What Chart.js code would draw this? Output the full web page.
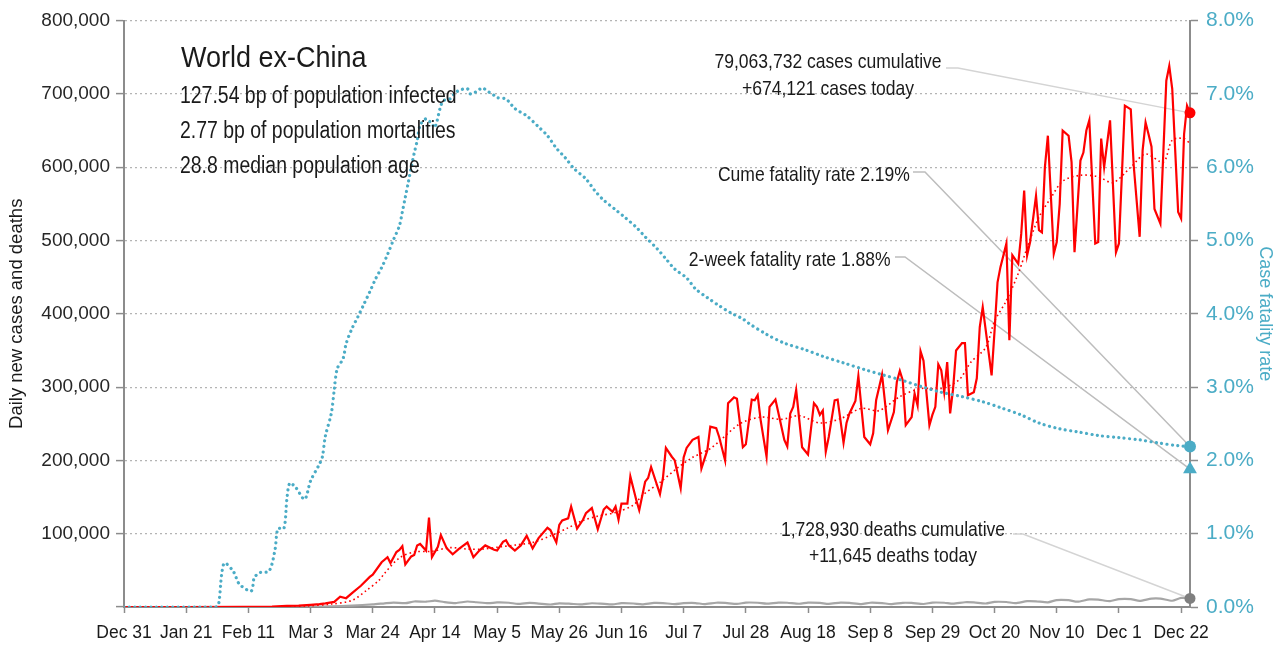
<!DOCTYPE html>
<html>
<head>
<meta charset="utf-8">
<script src="https://cdn.jsdelivr.net/npm/chart.js@4.4.1/dist/chart.umd.min.js"></script>
<style>
  body { margin: 0; background: #fff; }
  #wrap { position: relative; width: 1284px; height: 649px; }
  .note {
    position: absolute; white-space: nowrap; line-height: 1; color: #1a1a1a;
    font-family: 'Liberation Sans', Arial, sans-serif;
  }
  .left { transform-origin: left center; }
  .right { transform-origin: right center; }
  .mid { text-align: center; }
</style>
</head>
<body>
<div id="wrap">
  <canvas id="covidChart" width="1284" height="649"></canvas>
  <div class="note left" style="left:181px; top:42px; font-size:30px; transform:scaleX(0.9);">World ex-China</div>
  <div class="note left" style="left:180px; top:84px; font-size:23px; transform:scaleX(0.845);">127.54 bp of population infected</div>
  <div class="note left" style="left:180px; top:119px; font-size:23px; transform:scaleX(0.845);">2.77 bp of population mortalities</div>
  <div class="note left" style="left:180px; top:154px; font-size:23px; transform:scaleX(0.845);">28.8 median population age</div>
  <div class="note mid" style="left:828px; top:47px; font-size:21px; line-height:27px; transform:translateX(-50%) scaleX(0.835);">79,063,732 cases cumulative<br>+674,121 cases today</div>
  <div class="note right" style="right:374px; top:163px; font-size:21px; transform:scaleX(0.835);">Cume fatality rate 2.19%</div>
  <div class="note right" style="right:393px; top:248px; font-size:21px; transform:scaleX(0.835);">2-week fatality rate 1.88%</div>
  <div class="note mid" style="left:893px; top:516px; font-size:21px; line-height:26px; transform:translateX(-50%) scaleX(0.835);">1,728,930 deaths cumulative<br>+11,645 deaths today</div>
</div>
<script>
// x axis: days since Dec 31 2019
const tickDays = [0, 21, 42, 63, 84, 105, 126, 147, 168, 189, 210, 231, 252, 273, 294, 315, 336, 357];
const tickLabels = ['Dec 31', 'Jan 21', 'Feb 11', 'Mar 3', 'Mar 24', 'Apr 14', 'May 5', 'May 26', 'Jun 16',
  'Jul 7', 'Jul 28', 'Aug 18', 'Sep 8', 'Sep 29', 'Oct 20', 'Nov 10', 'Dec 1', 'Dec 22'];
const lastDay = 360;

// daily new cases
const caseDays = [
  0, 20, 40, 50, 55, 59, 63, 66, 68, 71,
  73, 75, 77, 80, 83, 84, 87, 89, 90, 92,
  93, 94, 95, 97, 98, 99, 100, 102, 103, 104,
  106, 107, 109, 111, 113, 114, 116, 118, 120, 122,
  125, 126, 128, 129, 130, 132, 134, 136, 138, 140,
  143, 144, 146, 147, 148, 150, 151, 153, 155, 156,
  158, 160, 162, 163, 165, 166, 167, 168, 170, 171,
  173, 174, 176, 177, 178, 181, 182, 183, 185, 186,
  188, 189, 190, 192, 194, 195, 197, 198, 200, 201,
  203, 204, 206, 207, 209, 210, 212, 213, 214, 215,
  217, 218, 220, 223, 224, 225, 226, 227, 229, 231,
  233, 234, 235, 236, 237, 238, 240, 241, 243, 244,
  245, 247, 248, 250, 252, 253, 254, 256, 258, 260,
  261, 262, 263, 264, 266, 267, 268, 269, 270, 272,
  273, 274, 275, 276, 277, 278, 279, 280, 281, 283,
  284, 285, 287, 288, 289, 290, 293, 294, 295, 296,
  298, 299, 300, 302, 303, 304, 305, 306, 308, 309,
  310, 311, 312, 314, 315, 316, 317, 319, 320, 321,
  323, 324, 325, 326, 328, 329, 330, 331, 333, 335,
  336, 338, 340, 341, 343, 344, 345, 346, 347, 348,
  350, 352, 353, 354, 356, 357, 358, 359, 360
];
const caseValues = [
  0, 0, 200, 600, 1500, 2000, 3000, 4000, 5000, 7000,
  14000, 12000, 19000, 29000, 41000, 44000, 61000, 68000, 60000, 75000,
  78000, 83000, 58000, 69000, 71000, 84000, 86000, 77000, 122000, 68000,
  82000, 98000, 80000, 72000, 79000, 82000, 88000, 68000, 77000, 84000,
  78000, 77000, 89000, 91000, 84000, 77000, 84000, 97000, 80000, 94000,
  108000, 105000, 88000, 112000, 118000, 121000, 137000, 107000, 119000, 128000,
  135000, 106000, 133000, 137000, 130000, 137000, 119000, 141000, 141000, 178000,
  146000, 132000, 171000, 176000, 191000, 154000, 176000, 217000, 205000, 200000,
  162000, 204000, 217000, 228000, 232000, 189000, 214000, 246000, 244000, 232000,
  200000, 278000, 286000, 284000, 218000, 222000, 283000, 282000, 289000, 255000,
  205000, 273000, 283000, 228000, 219000, 264000, 273000, 296000, 218000, 208000,
  278000, 273000, 262000, 268000, 212000, 232000, 282000, 283000, 224000, 251000,
  264000, 281000, 315000, 232000, 222000, 237000, 282000, 317000, 241000, 266000,
  307000, 322000, 309000, 248000, 259000, 291000, 275000, 349000, 336000, 248000,
  262000, 273000, 331000, 323000, 293000, 334000, 264000, 298000, 350000, 360000,
  360000, 289000, 293000, 312000, 382000, 409000, 316000, 377000, 443000, 464000,
  496000, 364000, 480000, 468000, 509000, 568000, 480000, 498000, 561000, 514000,
  511000, 600000, 643000, 482000, 498000, 550000, 650000, 643000, 607000, 484000,
  609000, 620000, 650000, 664000, 496000, 498000, 639000, 600000, 664000, 484000,
  496000, 684000, 679000, 602000, 505000, 623000, 661000, 645000, 628000, 543000,
  523000, 718000, 738000, 707000, 539000, 530000, 645000, 684000, 674121
];

// 7-day average of new cases
const avgDays = [0, 55, 62, 70, 77, 82, 86, 88, 93, 98, 104, 110, 116, 121, 127, 133, 138, 144, 150, 155,
  160, 166, 172, 175, 181, 187, 192, 195, 198, 201, 208, 215, 222, 228, 235, 242, 249, 255, 262, 269,
  276, 282, 286, 291, 294, 298, 302, 305, 309, 313, 317, 323, 329, 334, 340, 345, 351, 354, 358, 360];
const avgValues = [0, 500, 1500, 4000, 9000, 23000, 36000, 46000, 67000, 75000,
  76000, 81000, 79000, 79000, 82000, 85000, 88000, 97000, 108000, 118000,
  124000, 129000, 139000, 152000, 170000, 190000, 204000, 210000, 216000, 226000,
  250000, 259000, 256000, 261000, 251000, 257000, 271000, 268000, 287000, 298000,
  298000, 310000, 334000, 354000, 390000, 418000, 455000, 490000, 532000, 558000,
  581000, 589000, 587000, 579000, 600000, 618000, 607000, 637000, 639000, 632000];

// daily deaths
const deathDays = [0, 55, 63, 70, 77, 84, 88, 91, 95, 98, 102, 105, 108, 112, 116, 119, 123, 126, 130, 133,
  137, 140, 144, 147, 151, 154, 158, 161, 165, 168, 172, 175, 179, 182, 186, 189, 193, 196, 200, 203,
  207, 210, 214, 217, 221, 224, 228, 231, 235, 238, 242, 245, 249, 252, 256, 259, 263, 266, 270, 273,
  277, 280, 284, 287, 291, 294, 298, 301, 305, 308, 312, 315, 319, 322, 326, 329, 333, 336, 340, 343,
  347, 350, 354, 357, 360];
const deathValues = [0, 0, 200, 800, 2000, 3500, 5000, 6000, 5200, 7500, 7200, 8600, 6800, 5300, 7500, 6500, 5200, 6200, 5800, 4200,
  5500, 4700, 3400, 5000, 4300, 3600, 5100, 4600, 3500, 5200, 4800, 3700, 5500, 5300, 4000, 5200, 5400, 4000, 5800, 5500,
  4200, 6000, 5800, 4600, 6000, 5800, 4400, 6000, 5600, 4300, 6000, 5500, 4000, 5800, 5300, 4000, 5700, 5500, 4100, 6000,
  5800, 4500, 6500, 6200, 4800, 7000, 6800, 5200, 8000, 7800, 6400, 9500, 9300, 7200, 10300, 10000, 8000, 10800, 10800, 8400,
  11500, 11500, 8500, 12500, 11645];

// case fatality rate, %
const cfrDays = [0, 31, 32, 33, 34, 37, 39, 43, 44, 46, 49, 51, 52, 54, 55, 56, 58, 61, 63, 66,
  67, 68, 70, 71, 72, 74, 75, 77, 79, 81, 83, 85, 87, 89, 91, 93, 94, 95, 96, 97,
  98, 99, 100, 102, 104, 105, 107, 108, 110, 112, 114, 116, 117, 119, 121, 123, 125, 126, 129, 132,
  136, 140, 143, 146, 149, 152, 156, 159, 162, 166, 169, 173, 176, 180, 183, 186, 190, 193, 197, 201,
  205, 209, 211, 217, 223, 230, 236, 243, 250, 256, 263, 269, 276, 283, 290, 296, 303, 309, 316, 322,
  329, 336, 343, 349, 356, 360];
const cfrValues = [0, 0, 0.05, 0.45, 0.6, 0.48, 0.31, 0.22, 0.4, 0.47, 0.49, 0.78, 1.07, 1.07, 1.47, 1.69, 1.63, 1.47, 1.72, 1.95,
  2.05, 2.33, 2.64, 2.96, 3.25, 3.39, 3.59, 3.8, 3.96, 4.13, 4.3, 4.48, 4.63, 4.81, 5.01, 5.2, 5.39, 5.59, 5.79, 6.0,
  6.19, 6.36, 6.57, 6.66, 6.59, 6.54, 6.84, 6.91, 6.93, 7.02, 7.06, 7.07, 7.0, 7.03, 7.08, 7.03, 6.98, 6.95, 6.93, 6.8,
  6.7, 6.55, 6.43, 6.26, 6.13, 5.98, 5.84, 5.68, 5.55, 5.42, 5.32, 5.18, 5.05, 4.89, 4.75, 4.61, 4.49, 4.34, 4.22, 4.11,
  4.01, 3.93, 3.87, 3.72, 3.6, 3.51, 3.42, 3.33, 3.24, 3.17, 3.09, 3.01, 2.93, 2.87, 2.8, 2.72, 2.62, 2.51, 2.43, 2.39,
  2.34, 2.31, 2.28, 2.24, 2.2, 2.19];

// latest values
const latestCases = 674121;
const latestDeaths = 11645;
const cumeCfr = 2.19;
const twoWeekCfr = 1.88;

const TEAL = '#4bacc6';
const RED = '#ff0000';
const AXIS = '#8c8c8c';
const GRID = '#b4b4b4';
const SANS = "'Liberation Sans', Arial, sans-serif";

const toPoints = (xs, ys) => xs.map((x, i) => ({ x: x, y: ys[i] }));

// leader lines from the notes to the end markers
const leaderLines = {
  id: 'leaderLines',
  beforeDatasetsDraw(chart) {
    const { ctx, scales: { x, y, y2 } } = chart;
    const xEnd = x.getPixelForValue(lastDay);
    const lines = [
      { pts: [[946, 68], [958, 68], [xEnd, y.getPixelForValue(latestCases)]], color: '#d4d4d4' },
      { pts: [[913, 172], [925, 172], [xEnd, y2.getPixelForValue(cumeCfr)]], color: '#bdbdbd' },
      { pts: [[895, 257], [905, 257], [xEnd, y2.getPixelForValue(twoWeekCfr)]], color: '#bdbdbd' },
      { pts: [[1013, 534], [1023, 534], [xEnd, y.getPixelForValue(latestDeaths)]], color: '#d4d4d4' }
    ];
    ctx.save();
    ctx.lineWidth = 1.5;
    lines.forEach(l => {
      ctx.strokeStyle = l.color;
      ctx.beginPath();
      ctx.moveTo(l.pts[0][0], l.pts[0][1]);
      for (let i = 1; i < l.pts.length; i++) ctx.lineTo(l.pts[i][0], l.pts[i][1]);
      ctx.stroke();
    });
    ctx.restore();
  }
};

new Chart(document.getElementById('covidChart'), {
  type: 'line',
  data: {
    datasets: [
      { label: 'Cume fatality rate', data: [{ x: lastDay, y: cumeCfr }], yAxisID: 'y2', showLine: false,
        pointStyle: 'circle', pointRadius: 6, pointBackgroundColor: TEAL, pointBorderWidth: 0, clip: false, order: 0 },
      { label: '2-week fatality rate', data: [{ x: lastDay, y: twoWeekCfr }], yAxisID: 'y2', showLine: false,
        pointStyle: 'triangle', pointRadius: 8, pointBackgroundColor: TEAL, pointBorderWidth: 0, clip: false, order: 0 },
      { label: 'Cases today', data: [{ x: lastDay, y: latestCases }], yAxisID: 'y', showLine: false,
        pointStyle: 'circle', pointRadius: 5.5, pointBackgroundColor: RED, pointBorderWidth: 0, clip: false, order: 0 },
      { label: 'Deaths today', data: [{ x: lastDay, y: latestDeaths }], yAxisID: 'y', showLine: false,
        pointStyle: 'circle', pointRadius: 5.5, pointBackgroundColor: '#7f7f7f', pointBorderWidth: 0, clip: false, order: 0 },
      { label: 'Case fatality rate', data: toPoints(cfrDays, cfrValues), yAxisID: 'y2',
        borderColor: TEAL, borderWidth: 3.2, borderDash: [0.01, 5.4], borderCapStyle: 'round',
        pointRadius: 0, tension: 0.3, order: 1 },
      { label: '7-day average', data: toPoints(avgDays, avgValues), yAxisID: 'y',
        borderColor: RED, borderWidth: 1.6, borderDash: [1.6, 3], pointRadius: 0, tension: 0.3, order: 2 },
      { label: 'Daily new cases', data: toPoints(caseDays, caseValues), yAxisID: 'y',
        borderColor: RED, borderWidth: 2.2, pointRadius: 0, tension: 0, order: 3 },
      { label: 'Daily deaths', data: toPoints(deathDays, deathValues), yAxisID: 'y',
        borderColor: '#a6a6a6', borderWidth: 2.2, pointRadius: 0, tension: 0.2, order: 4 }
    ]
  },
  options: {
    responsive: false,
    animation: false,
    layout: { padding: { top: 20, left: 0, right: 0, bottom: 0 } },
    plugins: { legend: { display: false }, tooltip: { enabled: false } },
    scales: {
      x: {
        type: 'linear', min: 0, max: lastDay,
        afterBuildTicks: s => { s.ticks = tickDays.map(v => ({ value: v })); },
        afterFit: s => { s.height = 42; },
        ticks: {
          autoSkip: false, maxRotation: 0, padding: 10, color: '#1a1a1a',
          font: { family: SANS, size: 17.5 },
          callback: v => tickLabels[tickDays.indexOf(v)]
        },
        grid: { drawOnChartArea: false, drawTicks: true, tickLength: 6, tickColor: AXIS, tickWidth: 1.5 },
        border: { color: AXIS, width: 2 }
      },
      y: {
        position: 'left', min: 0, max: 800000,
        afterFit: s => { s.width = 124; },
        ticks: {
          stepSize: 100000, padding: 6, color: '#262626',
          font: { family: SANS, size: 19 },
          callback: v => v === 0 ? '' : v.toLocaleString('en-US')
        },
        grid: { color: GRID, lineWidth: 1.2, tickLength: 8, tickColor: AXIS, tickWidth: 1.5 },
        border: { color: AXIS, width: 2, dash: [2, 3] },
        title: {
          display: true, text: 'Daily new cases and deaths', color: '#1a1a1a',
          font: { family: SANS, size: 18.5 }, padding: { top: 6, bottom: 0 }
        }
      },
      y2: {
        position: 'right', min: 0, max: 8,
        afterFit: s => { s.width = 94; },
        ticks: {
          stepSize: 1, padding: 8, color: TEAL,
          font: { family: SANS, size: 21 },
          callback: v => v.toFixed(1) + '%'
        },
        grid: { drawOnChartArea: false, tickLength: 8, tickColor: AXIS, tickWidth: 1.5 },
        border: { color: AXIS, width: 2 },
        title: {
          display: true, text: 'Case fatality rate', color: TEAL,
          font: { family: SANS, size: 18 }, padding: { top: 8, bottom: 0 }
        }
      }
    }
  },
  plugins: [leaderLines]
});
</script>
</body>
</html>
